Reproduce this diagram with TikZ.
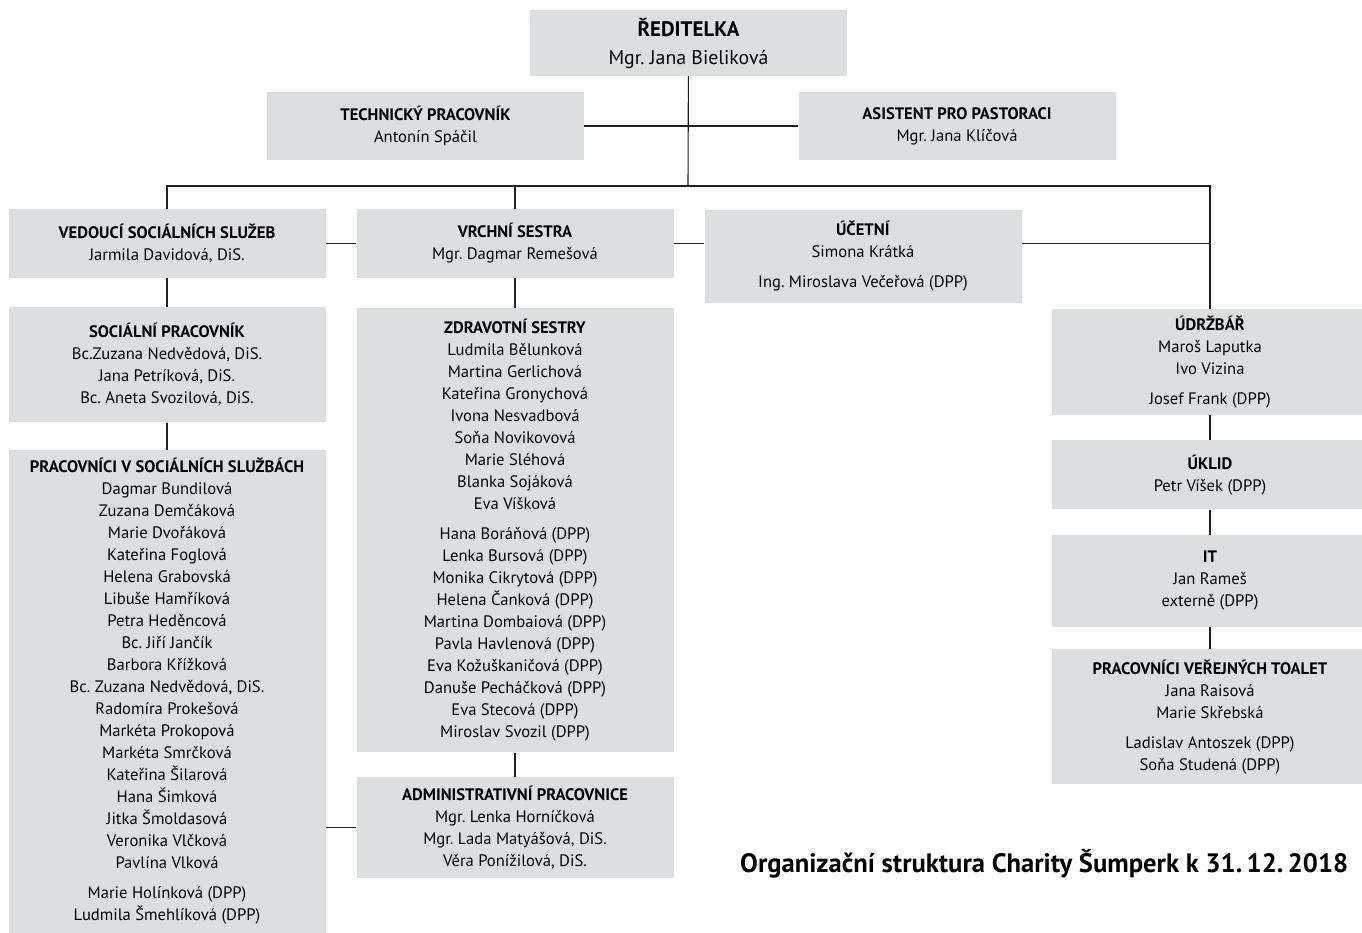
\documentclass[tikz,border=0pt]{standalone}
\usepackage{fontspec}
\setmainfont{PT Sans}
\usepackage{tikz}
\usetikzlibrary{positioning}
\definecolor{boxgray}{RGB}{221,222,224}
\definecolor{linkgray}{RGB}{35,31,32}
\newcommand{\role}[1]{\textbf{#1}}
\frenchspacing

\begin{document}
\begin{tikzpicture}[x=1pt, y=-1pt,
  unit/.style={fill=boxgray, minimum width=317pt, inner sep=0pt, align=center,
    font=\fontsize{16.6}{22}\selectfont},
  link/.style={line width=1.1pt, draw=linkgray}]
  \useasboundingbox (0,0) rectangle (1362,932);

  \node[unit, minimum height=66pt, font=\fontsize{19.8}{28}\selectfont] (dir) at (688.5,43)
    {\textbf{\fontsize{21}{28}\selectfont ŘEDITELKA}\\Mgr. Jana Bieliková};
  \node[unit, minimum height=68pt] (tech) at (425.5,126) {\role{TECHNICKÝ PRACOVNÍK}\\Antonín Spáčil};
  \node[unit, minimum height=68pt] (asist) at (957,126) {\role{ASISTENT PRO PASTORACI}\\Mgr. Jana Klíčová};

  \node[unit, minimum height=69pt] (ved) at (167,243.5) {\role{VEDOUCÍ SOCIÁLNÍCH SLUŽEB}\\Jarmila Davidová, DiS.};
  \node[unit, minimum height=69pt] (vrch) at (515,243.5) {\role{VRCHNÍ SESTRA}\\Mgr. Dagmar Remešová};
  \node[unit, minimum height=93pt] (uc) at (863,256.5) {\role{ÚČETNÍ}\\Simona Krátká\\[8pt]Ing. Miroslava Večeřová (DPP)};

  \node[unit, minimum height=115pt, below=29pt of ved] (soc)
    {\role{SOCIÁLNÍ PRACOVNÍK}\\Bc.Zuzana Nedvědová, DiS.\\Jana Petríková, DiS.\\Bc. Aneta Svozilová, DiS.};
  \node[unit, minimum height=483pt, below=27pt of soc] (prac)
    {\role{PRACOVNÍCI V SOCIÁLNÍCH SLUŽBÁCH}\\Dagmar Bundilová\\Zuzana Demčáková\\Marie Dvořáková\\
     Kateřina Foglová\\Helena Grabovská\\Libuše Hamříková\\Petra Heděncová\\Bc. Jiří Jančík\\
     Barbora Křížková\\Bc. Zuzana Nedvědová, DiS.\\Radomíra Prokešová\\Markéta Prokopová\\
     Markéta Smrčková\\Kateřina Šilarová\\Hana Šimková\\Jitka Šmoldasová\\Veronika Vlčková\\
     Pavlína Vlková\\[8pt]Marie Holínková (DPP)\\Ludmila Šmehlíková (DPP)};

  \node[unit, minimum height=444pt, below=30pt of vrch] (zdrav)
    {\role{ZDRAVOTNÍ SESTRY}\\Ludmila Bělunková\\Martina Gerlichová\\Kateřina Gronychová\\
     Ivona Nesvadbová\\Soňa Novikovová\\Marie Sléhová\\Blanka Sojáková\\Eva Víšková\\[8pt]
     Hana Boráňová (DPP)\\Lenka Bursová (DPP)\\Monika Cikrytová (DPP)\\Helena Čanková (DPP)\\
     Martina Dombaiová (DPP)\\Pavla Havlenová (DPP)\\Eva Kožuškaničová (DPP)\\
     Danuše Pecháčková (DPP)\\Eva Stecová (DPP)\\Miroslav Svozil (DPP)};
  \node[unit, minimum height=101pt, below=24pt of zdrav] (admin)
    {\role{ADMINISTRATIVNÍ PRACOVNICE}\\Mgr. Lenka Horníčková\\Mgr. Lada Matyášová, DiS.\\Věra Ponížilová, DiS.};

  \node[unit, minimum height=106pt] (udrz) at (1210,362)
    {\role{ÚDRŽBÁŘ}\\Maroš Laputka\\Ivo Vizina\\[8pt]Josef Frank (DPP)};
  \node[unit, minimum height=69pt, below=25pt of udrz] (uklid) {\role{ÚKLID}\\Petr Víšek (DPP)};
  \node[unit, minimum height=92pt, below=25pt of uklid] (it) {\role{IT}\\Jan Rameš\\externě (DPP)};
  \node[unit, minimum height=135pt, below=22pt of it] (toal)
    {\role{PRACOVNÍCI VEŘEJNÝCH TOALET}\\Jana Raisová\\Marie Skřebská\\[8pt]Ladislav Antoszek (DPP)\\Soňa Studená (DPP)};

  \node[anchor=base west, inner sep=0pt, font=\bfseries\fontsize{26.6}{30}\selectfont] (title) at (740,872)
    {Organizační struktura Charity Šumperk k 31.\,12.\,2018};

  \coordinate (bus) at (688,186);
  \draw[link] (dir) -- (bus);
  \draw[link] (tech) -- (asist);
  \draw[link] (ved.north) |- (bus) -| (udrz.north);
  \draw[link] (vrch.north) -- (vrch.north |- bus);
  \draw[link] (ved) -- (vrch);
  \draw[link] (vrch) -- (uc.west |- vrch.east);
  \draw[link] (uc.east |- vrch.east) -- (udrz.north |- vrch.east);
  \draw[link] (ved) -- (soc);
  \draw[link] (soc) -- (prac);
  \draw[link] (vrch) -- (zdrav);
  \draw[link] (zdrav) -- (admin);
  \draw[link] (prac.east |- admin.west) -- (admin.west);
  \draw[link] (udrz) -- (uklid);
  \draw[link] (uklid) -- (it);
  \draw[link] (it) -- (toal);
\end{tikzpicture}
\end{document}
